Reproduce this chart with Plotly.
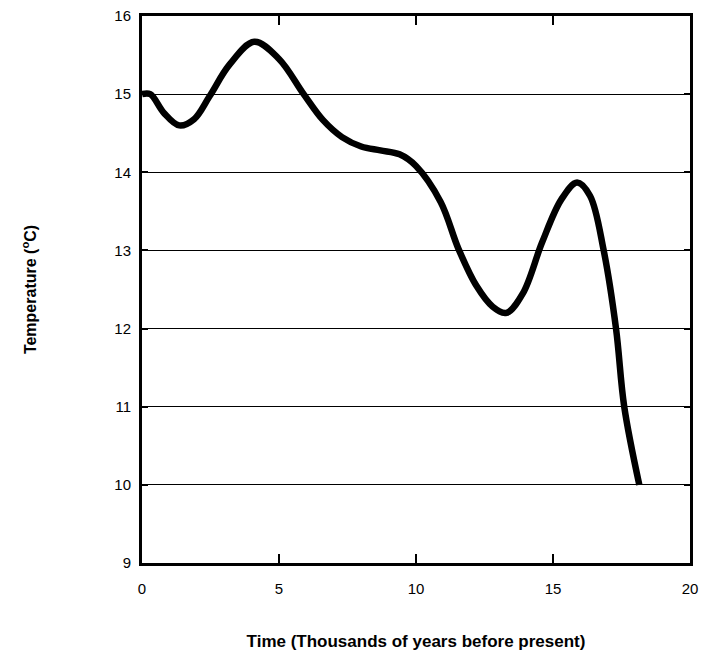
import plotly.graph_objects as go

time_kyr = [0.0, 0.3, 0.8, 1.36, 1.9, 2.46, 3.2, 4.1, 5.0, 5.9, 6.6, 7.3, 8.0, 8.7, 9.4,
            10.0, 10.9, 11.55, 12.2, 12.8, 13.3, 13.9, 14.6, 15.3, 15.88, 16.35, 16.85, 17.3, 17.6, 18.15]
temp_c = [15.0, 15.0, 14.76, 14.6, 14.68, 14.97, 15.38, 15.67, 15.45, 15.0, 14.67, 14.45, 14.33, 14.28, 14.23,
          14.08, 13.62, 13.02, 12.55, 12.28, 12.2, 12.45, 13.1, 13.65, 13.87, 13.7, 13.0, 12.0, 11.0, 10.0]

x_ticks = [0, 5, 10, 15, 20]
y_ticks = [9, 10, 11, 12, 13, 14, 15, 16]

fig = go.Figure()
fig.add_trace(go.Scatter(
    x=time_kyr, y=temp_c, mode="lines",
    line=dict(color="black", width=6.5, shape="spline", smoothing=1.0),
    showlegend=False,
))

font = dict(family="Liberation Sans, Arial, sans-serif", color="black")

fig.update_layout(
    width=716, height=660,
    margin=dict(l=134, r=34, t=8, b=105, autoexpand=False),
    paper_bgcolor="white", plot_bgcolor="white",
    font=dict(size=15, **font),
)
fig.update_xaxes(
    range=[0, 20], tickvals=x_ticks, ticks="inside", ticklen=9, tickwidth=2, tickcolor="black",
    showline=True, linewidth=3, linecolor="black", mirror="ticks",
    showgrid=False, zeroline=False, automargin=False, ticklabelstandoff=10,
    ticklabeloverflow="allow",
    tickfont=dict(size=15, **font),
    title=dict(text="<b>Time (Thousands of years before present)</b>", font=dict(size=17, **font), standoff=40),
)
fig.update_yaxes(
    range=[9, 16], tickvals=y_ticks, ticks="inside", ticklen=6, tickwidth=2, tickcolor="black",
    showline=True, linewidth=3, linecolor="black", mirror="ticks",
    showgrid=True, gridcolor="black", gridwidth=1, zeroline=False, automargin=False, ticklabelstandoff=5,
    ticklabeloverflow="allow",
    tickfont=dict(size=15, **font),
    title=dict(text="<b>Temperature (<sup>o</sup>C)</b>", font=dict(size=16, **font), standoff=74),
)

fig.write_html("out.html")
